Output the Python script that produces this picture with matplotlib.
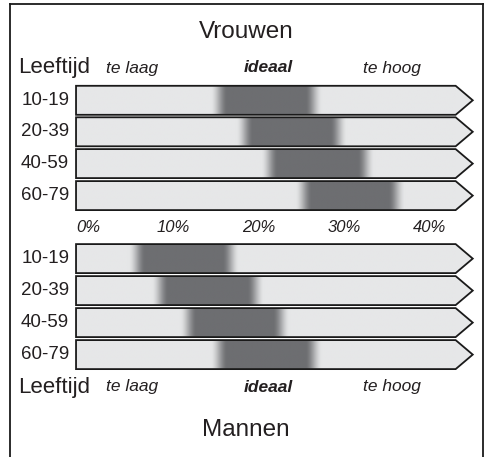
import numpy as np
import matplotlib.pyplot as plt
from matplotlib.patches import Polygon
from matplotlib.lines import Line2D

# ideale vetpercentages (donkere kern) per leeftijdsgroep
leeftijden = ['10-19', '20-39', '40-59', '60-79']
vrouwen_laag = [16.3, 19.3, 22.2, 26.2]
vrouwen_hoog = [25.4, 28.3, 31.5, 35.1]
mannen_laag = [6.7, 9.4, 12.7, 16.3]
mannen_hoog = [15.7, 18.6, 21.6, 25.4]
ticks = [0, 10, 20, 30, 40]
tick_labels = ['0%', '10%', '20%', '30%', '40%']

plt.rcParams['font.family'] = ['Liberation Sans', 'DejaVu Sans']
tekst = '#231f20'
licht = '#e6e7e8'
donker = '#6d6e71'

W, H = 487, 457
fig = plt.figure(figsize=(W/100, H/100), dpi=100)
ax = fig.add_axes([0, 0, 1, 1])
# x in procent: 0% op pixel 88, 8.55 px per procent; y in pixels
x0, sc = 88, 8.55
ax.set_xlim(-x0/sc, (W-x0)/sc)
ax.set_ylim(H, 0)
ax.axis('off')

body_l, body_r, tip = -1.4, 43.0, 45.0
bar_h = 29
fade = 2.0

def balk(yc, lo, hi):
    top, bot = yc - bar_h/2, yc + bar_h/2
    xs = np.linspace(body_l, body_r, 800)
    a = np.clip(np.minimum(xs - (lo - fade), (hi + fade) - xs) / fade, 0, 1)
    a = a*a*(3 - 2*a)
    c1 = np.array([0xe6, 0xe7, 0xe8]) / 255
    c2 = np.array([0x6d, 0x6e, 0x71]) / 255
    img = c1[None, :] * (1 - a[:, None]) + c2[None, :] * a[:, None]
    hoeken = [[body_l, top], [body_r, top], [tip, yc], [body_r, bot], [body_l, bot]]
    poly = Polygon(hoeken, closed=True, facecolor=licht, edgecolor='none', zorder=1)
    ax.add_patch(poly)
    im = ax.imshow(img[None, :, :], extent=[body_l, body_r, bot, top], aspect='auto',
                   interpolation='bilinear', zorder=2)
    im.set_clip_path(poly)
    ax.add_patch(Polygon(hoeken, closed=True, facecolor='none', edgecolor='#1a1a1a',
                         lw=1.3, zorder=3))

rij_v = [100.3, 131.8, 163.6, 195.6]
rij_m = [258.6, 290.6, 322.6, 354.6]
lab_x = -2.2
for i, lt in enumerate(leeftijden):
    balk(rij_v[i], vrouwen_laag[i], vrouwen_hoog[i])
    balk(rij_m[i], mannen_laag[i], mannen_hoog[i])
    ax.text(lab_x, rij_v[i], lt, ha='right', va='center', fontsize=13.5, color=tekst)
    ax.text(lab_x, rij_m[i], lt, ha='right', va='center', fontsize=13.5, color=tekst)

for t, l in zip(ticks, tick_labels):
    ax.text(t, 228, l, ha='center', va='center', fontsize=12, style='italic', color=tekst)

for y in [68, 387]:
    ax.text(-8.2, y, 'Leeftijd', ha='left', va='center', fontsize=16, color=tekst)
    ax.text(5.1, y, 'te laag', ha='center', va='center', fontsize=12.5, style='italic', color=tekst)
    ax.text(21.1, y, 'ideaal', ha='center', va='center', fontsize=12.5, style='italic',
            weight='bold', color=tekst)
    ax.text(35.6, y, 'te hoog', ha='center', va='center', fontsize=12.5, style='italic', color=tekst)

ax.text(18.5, 32, 'Vrouwen', ha='center', va='center', fontsize=17.5, color=tekst)
ax.text(18.5, 430, 'Mannen', ha='center', va='center', fontsize=17.5, color=tekst)

# kader
for xl in [10, 483]:
    fig.add_artist(Line2D([xl/W, xl/W], [0, 1 - 4/H], color='#1a1a1a', lw=1.3))
fig.add_artist(Line2D([10/W, 483/W], [1 - 4/H, 1 - 4/H], color='#1a1a1a', lw=1.3))

fig.savefig('out.png', dpi=100, facecolor='white')
